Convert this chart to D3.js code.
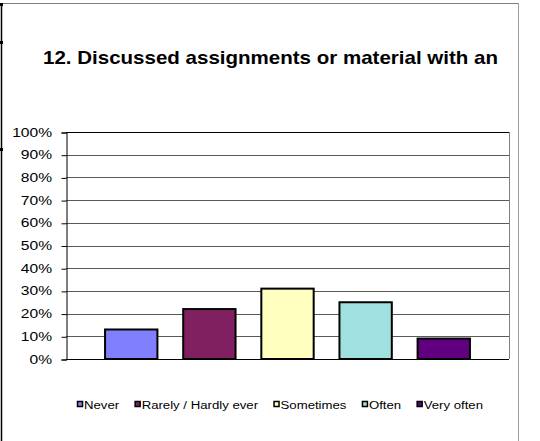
<!DOCTYPE html>
<meta charset="utf-8">
<style>
body { margin: 0; background: #fff; }
text { font-family: Arial, "Liberation Sans", sans-serif; fill: #000; }
</style>
<body>
<script src="https://cdn.jsdelivr.net/npm/d3@7"></script>
<script>
var width = 540, height = 441;
var sx = 1.2; // the picture is stretched sideways a little

var title = "12. Discussed assignments or material with an";
var series = ["Never", "Rarely / Hardly ever", "Sometimes", "Often", "Very often"];
var values = [13, 22, 31, 25, 9];
var colors = ["#8080FF", "#802060", "#FFFFC0", "#A0E0E0", "#600080"];
var yTicks = [0, 10, 20, 30, 40, 50, 60, 70, 80, 90, 100];

var plot = {left: 66, right: 509, top: 132, bottom: 359};

var svg = d3.select("body").append("svg")
    .attr("width", width)
    .attr("height", height);

// outer frame
svg.append("line").attr("x1", 2).attr("x2", 518).attr("y1", 3.5).attr("y2", 3.5)
    .attr("stroke", "#808080");
svg.append("line").attr("x1", 518.5).attr("x2", 518.5).attr("y1", 3).attr("y2", height)
    .attr("stroke", "#a0a0a0");
svg.append("line").attr("x1", 1.5).attr("x2", 1.5).attr("y1", 3).attr("y2", height)
    .attr("stroke", "#000").attr("stroke-width", 1.5);
[3, 41, 148].forEach(function(y) {
    svg.append("rect").attr("x", 0).attr("y", y).attr("width", 3).attr("height", 3).attr("fill", "#000");
});

// title
svg.append("text")
    .attr("transform", "translate(270.5,64) scale(1.14,1)")
    .attr("text-anchor", "middle")
    .style("font-size", "18px")
    .style("font-weight", "bold")
    .text(title);

var y = d3.scaleLinear().domain([0, 100]).range([plot.bottom, plot.top]);
var x = d3.scaleBand().domain(series)
    .range([plot.left, plot.right])
    .paddingInner(0.33)
    .paddingOuter(0.5);

// gridlines
svg.append("g").selectAll("line")
    .data(yTicks.slice(1))
    .enter().append("line")
    .attr("x1", plot.left).attr("x2", plot.right)
    .attr("y1", function(d) { return Math.round(y(d)) + 0.5; })
    .attr("y2", function(d) { return Math.round(y(d)) + 0.5; })
    .attr("stroke", function(d) { return d === 100 ? "#000" : "#5a5a5a"; });

// plot right border
svg.append("line").attr("x1", plot.right + 0.5).attr("x2", plot.right + 0.5)
    .attr("y1", plot.top).attr("y2", plot.bottom)
    .attr("stroke", "#808080");

// y axis
var yAxis = svg.append("g")
    .attr("transform", "translate(" + (plot.left + 0.5) + ",0.5)")
    .call(d3.axisLeft(y).tickValues(yTicks).tickSize(5).tickFormat(""));
yAxis.select(".domain").attr("stroke", "#000");
yAxis.selectAll(".tick line").attr("stroke", "#000");

svg.append("g").selectAll("text")
    .data(yTicks)
    .enter().append("text")
    .attr("transform", function(d) { return "translate(52," + (y(d) + 4.5) + ") scale(" + sx + ",1)"; })
    .attr("text-anchor", "end")
    .style("font-size", "13px")
    .text(function(d) { return d + "%"; });

// bars
svg.append("g").selectAll("rect")
    .data(values)
    .enter().append("rect")
    .attr("x", function(d, i) { return x(series[i]); })
    .attr("width", x.bandwidth())
    .attr("y", function(d) { return y(d); })
    .attr("height", function(d) { return y(0) - y(d); })
    .attr("fill", function(d, i) { return colors[i]; })
    .attr("stroke", "#000")
    .attr("stroke-width", 2);

// x axis line
svg.append("line").attr("x1", plot.left).attr("x2", plot.right)
    .attr("y1", plot.bottom + 0.5).attr("y2", plot.bottom + 0.5)
    .attr("stroke", "#000");

// legend
var legend = svg.append("g");
var lx = 77;
series.forEach(function(name, i) {
    legend.append("rect")
        .attr("x", lx + 0.5).attr("y", 401.5)
        .attr("width", 5).attr("height", 5)
        .attr("fill", colors[i])
        .attr("stroke", "#000")
        .attr("stroke-width", 1.5);
    var t = legend.append("text")
        .attr("transform", "translate(" + (lx + 7) + ",408.5) scale(" + sx + ",1)")
        .style("font-size", "11px")
        .text(name);
    lx += 7 + t.node().getComputedTextLength() * sx + 15.5;
});
</script>
</body>
